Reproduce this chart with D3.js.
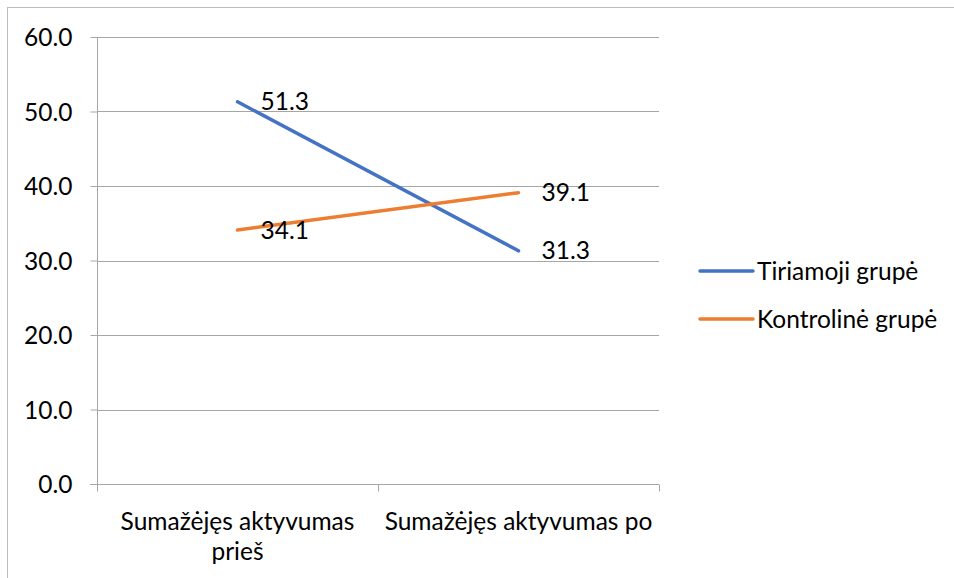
<!DOCTYPE html>
<html>
<head>
<meta charset="utf-8">
<script src="https://cdn.jsdelivr.net/npm/d3@7"></script>
<style>
  body { margin: 0; background: #fff; }
  text { font-family: Lato, "Open Sans", sans-serif; fill: #000; }
</style>
</head>
<body>
<script>
var categories = [["Sumažėjęs aktyvumas", "prieš"], ["Sumažėjęs aktyvumas po"]];
var seriesNames = ["Tiriamoji grupė", "Kontrolinė grupė"];
var tiriamoji = [51.3, 31.3];
var kontroline = [34.1, 39.1];
var yTicks = [0, 10, 20, 30, 40, 50, 60];
var colors = ["#4472C4", "#ED7D31"];

var W = 954, H = 578;
var mLeft = 97, mRight = 659, mTop = 37, mBottom = 484;
var fs = "24.5px";

var svg = d3.select("body").append("svg").attr("width", W).attr("height", H);

// outer chart frame (partly cropped in the picture)
svg.append("rect").attr("x", 7.5).attr("y", 7.5).attr("width", W).attr("height", H)
  .attr("fill", "none").attr("stroke", "#bdbdbd");

var x = d3.scaleBand().domain([0, 1]).range([mLeft, mRight]);
var y = d3.scaleLinear().domain([0, 60]).range([mBottom, mTop]);

// gridlines
svg.append("g").selectAll("line").data(yTicks.filter(function(d) { return d > 0; }))
  .enter().append("line")
  .attr("x1", mLeft).attr("x2", mRight)
  .attr("y1", function(d) { return Math.round(y(d)) + 0.5; })
  .attr("y2", function(d) { return Math.round(y(d)) + 0.5; })
  .attr("stroke", "#a6a6a6").attr("stroke-width", 1);

// y axis
var yAxis = svg.append("g").attr("transform", "translate(" + (mLeft + 0.5) + ",0)")
  .call(d3.axisLeft(y).tickValues(yTicks).tickSize(7).tickPadding(18).tickFormat(d3.format(".1f")));
yAxis.select(".domain").attr("stroke", "#a6a6a6").attr("d", "M0," + mTop + "V" + mBottom);
yAxis.selectAll(".tick line").attr("stroke", "#a6a6a6");
yAxis.selectAll(".tick text").style("font-size", fs).style("font-family", "Lato").attr("fill", "#000").attr("dy", "0.35em");

// x axis
var xg = svg.append("g").attr("transform", "translate(0," + (Math.round(mBottom) + 0.5) + ")");
xg.append("line").attr("x1", mLeft - 7).attr("x2", mRight).attr("stroke", "#a6a6a6");
xg.selectAll(".xt").data([mLeft, (mLeft + mRight) / 2, mRight]).enter().append("line")
  .attr("x1", function(d) { return Math.round(d) + 0.5; })
  .attr("x2", function(d) { return Math.round(d) + 0.5; })
  .attr("y1", 0).attr("y2", 7).attr("stroke", "#a6a6a6");

categories.forEach(function(lines, i) {
  var cx = x(i) + x.bandwidth() / 2;
  var t = svg.append("text").attr("text-anchor", "middle").style("font-size", fs)
    .attr("x", cx).attr("y", 530);
  lines.forEach(function(s, j) {
    t.append("tspan").attr("x", cx).attr("dy", j ? 30 : 0).text(s);
  });
});

// lines and data labels
var line = d3.line()
  .x(function(d, i) { return x(i) + x.bandwidth() / 2; })
  .y(function(d) { return y(d); });

[tiriamoji, kontroline].forEach(function(vals, k) {
  svg.append("path").datum(vals).attr("d", line)
    .attr("fill", "none").attr("stroke", colors[k]).attr("stroke-width", 3.5)
    .attr("stroke-linecap", "round");
  svg.append("g").selectAll("text").data(vals).enter().append("text")
    .attr("x", function(d, i) { return x(i) + x.bandwidth() / 2 + 23; })
    .attr("y", function(d) { return y(d); })
    .attr("dy", "0.35em")
    .style("font-size", fs)
    .text(function(d) { return d.toFixed(1); });
});

// legend
var legend = svg.append("g").selectAll("g").data(seriesNames).enter().append("g")
  .attr("transform", function(d, i) { return "translate(700," + (271 + i * 48) + ")"; });
legend.append("line").attr("x1", 0).attr("x2", 53)
  .attr("stroke", function(d, i) { return colors[i]; }).attr("stroke-width", 3.5)
  .attr("stroke-linecap", "round");
legend.append("text").attr("x", 57).attr("dy", "0.35em").style("font-size", fs)
  .text(function(d) { return d; });
</script>
</body>
</html>
